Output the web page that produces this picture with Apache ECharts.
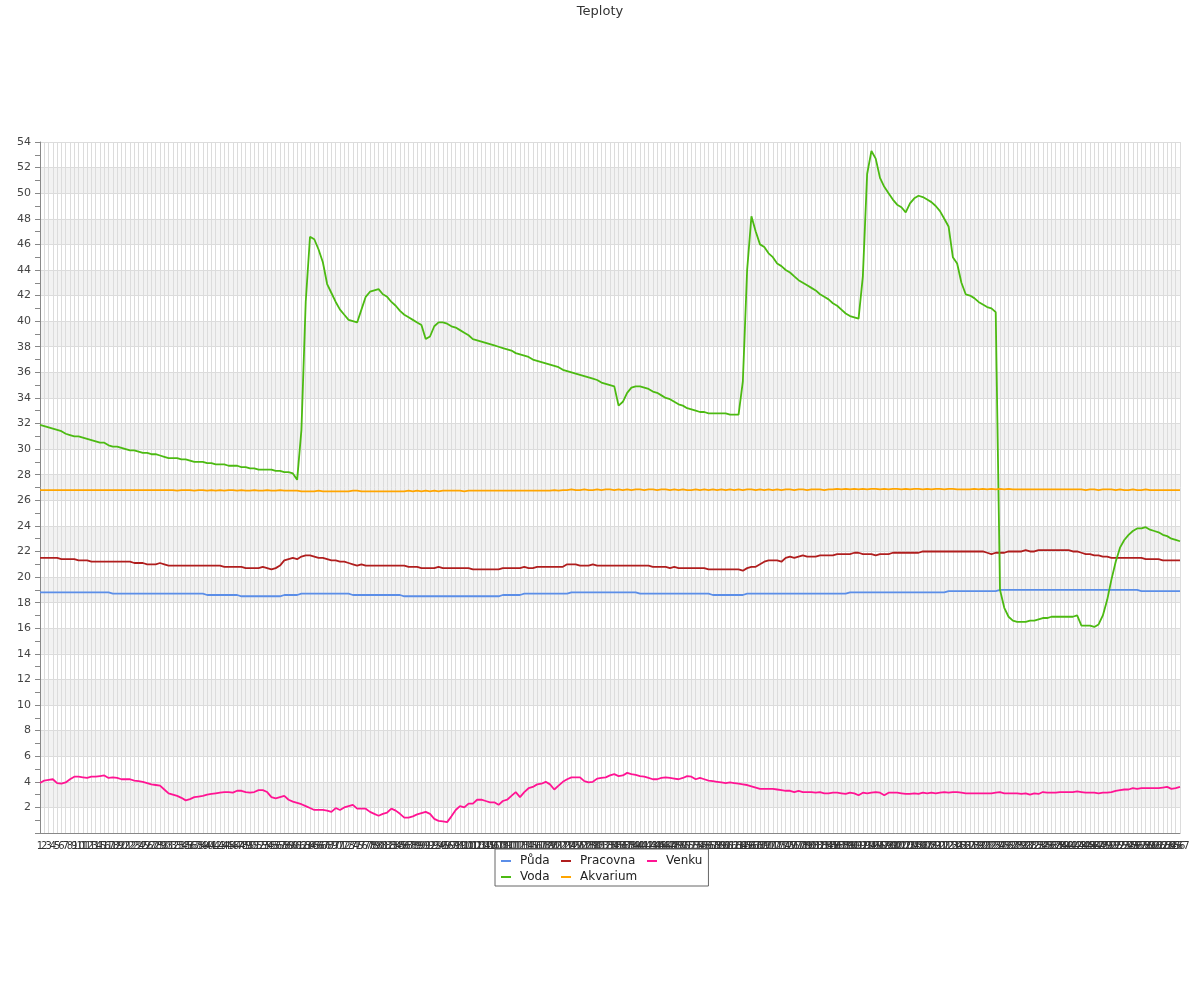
<!DOCTYPE html>
<html><head><meta charset="utf-8">
<script src="https://cdn.jsdelivr.net/npm/echarts@6/dist/echarts.min.js"></script>
<style>html,body{margin:0;padding:0;background:#fff}#c{width:1200px;height:1000px}</style>
</head><body><div id="c"></div>
<script>
const title = 'Teploty';
const seriesNames = ['Půda', 'Pracovna', 'Venku', 'Voda', 'Akvarium'];
const seriesColors = ['#5b8ee8', '#b01e1e', '#ff1493', '#4cba12', '#ffa500'];
const categories = Array.from({length: 267}, (_, i) => String(i + 1));
const yTicks = {min: 0, max: 54, step: 2};

const puda = [
18.8,18.8,18.8,18.8,18.8,18.8,18.8,18.8,18.8,18.8,
18.8,18.8,18.8,18.8,18.8,18.8,18.8,18.7,18.7,18.7,
18.7,18.7,18.7,18.7,18.7,18.7,18.7,18.7,18.7,18.7,
18.7,18.7,18.7,18.7,18.7,18.7,18.7,18.7,18.7,18.6,
18.6,18.6,18.6,18.6,18.6,18.6,18.6,18.5,18.5,18.5,
18.5,18.5,18.5,18.5,18.5,18.5,18.5,18.6,18.6,18.6,
18.6,18.7,18.7,18.7,18.7,18.7,18.7,18.7,18.7,18.7,
18.7,18.7,18.7,18.6,18.6,18.6,18.6,18.6,18.6,18.6,
18.6,18.6,18.6,18.6,18.6,18.5,18.5,18.5,18.5,18.5,
18.5,18.5,18.5,18.5,18.5,18.5,18.5,18.5,18.5,18.5,
18.5,18.5,18.5,18.5,18.5,18.5,18.5,18.5,18.6,18.6,
18.6,18.6,18.6,18.7,18.7,18.7,18.7,18.7,18.7,18.7,
18.7,18.7,18.7,18.7,18.8,18.8,18.8,18.8,18.8,18.8,
18.8,18.8,18.8,18.8,18.8,18.8,18.8,18.8,18.8,18.8,
18.7,18.7,18.7,18.7,18.7,18.7,18.7,18.7,18.7,18.7,
18.7,18.7,18.7,18.7,18.7,18.7,18.7,18.6,18.6,18.6,
18.6,18.6,18.6,18.6,18.6,18.7,18.7,18.7,18.7,18.7,
18.7,18.7,18.7,18.7,18.7,18.7,18.7,18.7,18.7,18.7,
18.7,18.7,18.7,18.7,18.7,18.7,18.7,18.7,18.7,18.8,
18.8,18.8,18.8,18.8,18.8,18.8,18.8,18.8,18.8,18.8,
18.8,18.8,18.8,18.8,18.8,18.8,18.8,18.8,18.8,18.8,
18.8,18.8,18.9,18.9,18.9,18.9,18.9,18.9,18.9,18.9,
18.9,18.9,18.9,18.9,19.0,19.0,19.0,19.0,19.0,19.0,
19.0,19.0,19.0,19.0,19.0,19.0,19.0,19.0,19.0,19.0,
19.0,19.0,19.0,19.0,19.0,19.0,19.0,19.0,19.0,19.0,
19.0,19.0,19.0,19.0,19.0,19.0,19.0,18.9,18.9,18.9,
18.9,18.9,18.9,18.9,18.9,18.9,18.9
];

const pracovna = [
21.5,21.5,21.5,21.5,21.5,21.4,21.4,21.4,21.4,21.3,
21.3,21.3,21.2,21.2,21.2,21.2,21.2,21.2,21.2,21.2,
21.2,21.2,21.1,21.1,21.1,21.0,21.0,21.0,21.1,21.0,
20.9,20.9,20.9,20.9,20.9,20.9,20.9,20.9,20.9,20.9,
20.9,20.9,20.9,20.8,20.8,20.8,20.8,20.8,20.7,20.7,
20.7,20.7,20.8,20.7,20.6,20.7,20.9,21.3,21.4,21.5,
21.4,21.6,21.7,21.7,21.6,21.5,21.5,21.4,21.3,21.3,
21.2,21.2,21.1,21.0,20.9,21.0,20.9,20.9,20.9,20.9,
20.9,20.9,20.9,20.9,20.9,20.9,20.8,20.8,20.8,20.7,
20.7,20.7,20.7,20.8,20.7,20.7,20.7,20.7,20.7,20.7,
20.7,20.6,20.6,20.6,20.6,20.6,20.6,20.6,20.7,20.7,
20.7,20.7,20.7,20.8,20.7,20.7,20.8,20.8,20.8,20.8,
20.8,20.8,20.8,21.0,21.0,21.0,20.9,20.9,20.9,21.0,
20.9,20.9,20.9,20.9,20.9,20.9,20.9,20.9,20.9,20.9,
20.9,20.9,20.9,20.8,20.8,20.8,20.8,20.7,20.8,20.7,
20.7,20.7,20.7,20.7,20.7,20.7,20.6,20.6,20.6,20.6,
20.6,20.6,20.6,20.6,20.5,20.7,20.8,20.8,21.0,21.2,
21.3,21.3,21.3,21.2,21.5,21.6,21.5,21.6,21.7,21.6,
21.6,21.6,21.7,21.7,21.7,21.7,21.8,21.8,21.8,21.8,
21.9,21.9,21.8,21.8,21.8,21.7,21.8,21.8,21.8,21.9,
21.9,21.9,21.9,21.9,21.9,21.9,22.0,22.0,22.0,22.0,
22.0,22.0,22.0,22.0,22.0,22.0,22.0,22.0,22.0,22.0,
22.0,21.9,21.8,21.9,21.9,21.9,22.0,22.0,22.0,22.0,
22.1,22.0,22.0,22.1,22.1,22.1,22.1,22.1,22.1,22.1,
22.1,22.0,22.0,21.9,21.8,21.8,21.7,21.7,21.6,21.6,
21.5,21.5,21.5,21.5,21.5,21.5,21.5,21.5,21.4,21.4,
21.4,21.4,21.3,21.3,21.3,21.3,21.3
];

const venku = [
3.9,4.1,4.15,4.2,3.9,3.85,3.95,4.2,4.4,4.4,
4.35,4.3,4.4,4.4,4.45,4.5,4.3,4.35,4.3,4.2,
4.2,4.2,4.1,4.05,4.0,3.9,3.8,3.75,3.7,3.4,
3.1,3.0,2.9,2.75,2.55,2.65,2.8,2.85,2.9,3.0,
3.05,3.1,3.15,3.2,3.2,3.15,3.3,3.3,3.2,3.15,
3.2,3.35,3.35,3.2,2.8,2.7,2.8,2.9,2.6,2.45,
2.35,2.25,2.1,1.95,1.8,1.8,1.8,1.75,1.65,1.95,
1.8,2.0,2.1,2.2,1.9,1.9,1.9,1.65,1.5,1.35,
1.5,1.6,1.9,1.75,1.5,1.2,1.2,1.3,1.45,1.55,
1.65,1.5,1.1,0.95,0.9,0.85,1.3,1.8,2.1,2.0,
2.3,2.3,2.6,2.6,2.5,2.4,2.4,2.2,2.5,2.6,
2.9,3.2,2.8,3.2,3.5,3.6,3.8,3.85,4.0,3.8,
3.4,3.7,4.0,4.2,4.35,4.35,4.35,4.05,3.95,4.0,
4.25,4.3,4.35,4.5,4.6,4.45,4.5,4.7,4.6,4.55,
4.45,4.4,4.3,4.2,4.2,4.3,4.35,4.3,4.25,4.2,
4.3,4.45,4.4,4.2,4.3,4.2,4.1,4.05,4.0,3.95,
3.9,3.95,3.9,3.85,3.8,3.75,3.65,3.55,3.45,3.45,
3.45,3.45,3.4,3.35,3.3,3.3,3.2,3.3,3.2,3.2,
3.2,3.15,3.2,3.1,3.1,3.15,3.15,3.1,3.05,3.15,
3.1,2.95,3.15,3.1,3.15,3.2,3.15,2.95,3.15,3.15,
3.15,3.1,3.05,3.05,3.1,3.05,3.15,3.1,3.15,3.1,
3.15,3.2,3.15,3.2,3.2,3.15,3.1,3.1,3.1,3.1,
3.1,3.1,3.1,3.15,3.2,3.1,3.1,3.1,3.1,3.05,
3.1,3.0,3.1,3.05,3.2,3.15,3.15,3.15,3.2,3.2,
3.2,3.2,3.25,3.2,3.15,3.15,3.15,3.1,3.15,3.15,
3.2,3.3,3.35,3.4,3.4,3.5,3.45,3.5,3.5,3.5,
3.5,3.5,3.55,3.6,3.45,3.5,3.6
];

const voda = [
31.9,31.8,31.7,31.6,31.5,31.4,31.2,31.1,31.0,31.0,
30.9,30.8,30.7,30.6,30.5,30.5,30.3,30.2,30.2,30.1,
30.0,29.9,29.9,29.8,29.7,29.7,29.6,29.6,29.5,29.4,
29.3,29.3,29.3,29.2,29.2,29.1,29.0,29.0,29.0,28.9,
28.9,28.8,28.8,28.8,28.7,28.7,28.7,28.6,28.6,28.5,
28.5,28.4,28.4,28.4,28.4,28.3,28.3,28.2,28.2,28.1,
27.6,31.5,41.5,46.6,46.4,45.6,44.6,42.9,42.2,41.5,
40.9,40.5,40.1,40.0,39.9,40.9,41.9,42.3,42.4,42.5,
42.1,41.9,41.5,41.2,40.8,40.5,40.3,40.1,39.9,39.7,
38.6,38.8,39.6,39.9,39.9,39.8,39.6,39.5,39.3,39.1,
38.9,38.6,38.5,38.4,38.3,38.2,38.1,38.0,37.9,37.8,
37.7,37.5,37.4,37.3,37.2,37.0,36.9,36.8,36.7,36.6,
36.5,36.4,36.2,36.1,36.0,35.9,35.8,35.7,35.6,35.5,
35.4,35.2,35.1,35.0,34.9,33.4,33.7,34.4,34.8,34.9,
34.9,34.8,34.7,34.5,34.4,34.2,34.0,33.9,33.7,33.5,
33.4,33.2,33.1,33.0,32.9,32.9,32.8,32.8,32.8,32.8,
32.8,32.7,32.7,32.7,35.3,44.0,48.2,47.0,46.0,45.8,
45.3,45.0,44.5,44.3,44.0,43.8,43.5,43.2,43.0,42.8,
42.6,42.4,42.1,41.9,41.7,41.4,41.2,40.9,40.6,40.4,
40.3,40.2,43.5,51.5,53.3,52.7,51.2,50.5,50.0,49.5,
49.1,48.9,48.5,49.2,49.6,49.8,49.7,49.5,49.3,49.0,
48.6,48.0,47.4,45.0,44.5,43.0,42.1,42.0,41.8,41.5,
41.3,41.1,41.0,40.7,19.0,17.6,16.9,16.6,16.5,16.5,
16.5,16.6,16.6,16.7,16.8,16.8,16.9,16.9,16.9,16.9,
16.9,16.9,17.0,16.2,16.2,16.2,16.1,16.3,17.0,18.2,
19.8,21.2,22.3,22.9,23.3,23.6,23.8,23.8,23.9,23.7,
23.6,23.5,23.3,23.2,23.0,22.9,22.8
];

const akvarium = [
26.8,26.8,26.8,26.8,26.8,26.8,26.8,26.8,26.8,26.8,
26.8,26.8,26.8,26.8,26.8,26.8,26.8,26.8,26.8,26.8,
26.8,26.8,26.8,26.8,26.8,26.8,26.8,26.8,26.8,26.8,
26.8,26.8,26.75,26.8,26.8,26.8,26.75,26.8,26.8,26.75,
26.8,26.75,26.8,26.75,26.8,26.8,26.75,26.8,26.75,26.75,
26.8,26.75,26.75,26.8,26.75,26.75,26.8,26.75,26.75,26.75,
26.75,26.7,26.7,26.7,26.7,26.75,26.7,26.7,26.7,26.7,
26.7,26.7,26.7,26.75,26.75,26.7,26.7,26.7,26.7,26.7,
26.7,26.7,26.7,26.7,26.7,26.7,26.75,26.7,26.75,26.7,
26.75,26.7,26.75,26.7,26.75,26.75,26.75,26.75,26.75,26.7,
26.75,26.75,26.75,26.75,26.75,26.75,26.75,26.75,26.75,26.75,
26.75,26.75,26.75,26.75,26.75,26.75,26.75,26.75,26.75,26.75,
26.8,26.75,26.8,26.8,26.85,26.8,26.8,26.85,26.8,26.8,
26.85,26.8,26.85,26.85,26.8,26.85,26.8,26.85,26.8,26.85,
26.85,26.8,26.85,26.85,26.8,26.85,26.85,26.8,26.85,26.8,
26.85,26.8,26.8,26.85,26.8,26.85,26.8,26.85,26.8,26.85,
26.8,26.85,26.8,26.85,26.8,26.85,26.85,26.8,26.85,26.8,
26.85,26.8,26.85,26.8,26.85,26.85,26.8,26.85,26.85,26.8,
26.85,26.85,26.85,26.8,26.85,26.85,26.9,26.85,26.9,26.85,
26.9,26.85,26.9,26.85,26.9,26.9,26.85,26.9,26.85,26.9,
26.9,26.85,26.9,26.85,26.9,26.9,26.85,26.9,26.85,26.9,
26.9,26.85,26.9,26.9,26.85,26.85,26.85,26.85,26.9,26.85,
26.9,26.85,26.9,26.85,26.9,26.85,26.9,26.85,26.85,26.85,
26.85,26.85,26.85,26.85,26.85,26.85,26.85,26.85,26.85,26.85,
26.85,26.85,26.85,26.85,26.8,26.85,26.85,26.8,26.85,26.85,
26.85,26.8,26.85,26.8,26.8,26.85,26.8,26.8,26.85,26.8,
26.8,26.8,26.8,26.8,26.8,26.8,26.8
];

const seriesData = [puda, pracovna, venku, voda, akvarium];
const legendTextWidths = [41, 67, 34, 41, 67];
const FONT = 'DejaVu Sans';

const chart = echarts.init(document.getElementById('c'), null, {renderer: 'canvas'});
chart.setOption({
  animation: false,
  backgroundColor: '#ffffff',
  textStyle: {fontFamily: FONT},
  title: {
    text: title, left: 'center', top: 0,
    textStyle: {fontSize: 13, fontWeight: 'normal', color: '#333', fontFamily: FONT}
  },
  legend: {
    left: 495, top: 849, width: 205,
    orient: 'horizontal',
    padding: [4, 6, 1, 6],
    itemGap: 0,
    itemWidth: 10, itemHeight: 2,
    icon: 'rect',
    borderColor: '#666', borderWidth: 1,
    textStyle: {fontSize: 12, color: '#222', fontFamily: FONT, lineHeight: 16},
    data: seriesNames.map((n, i) => ({name: n, textStyle: {width: legendTextWidths[i], padding: [0, 0, 0, 4]}}))
  },
  grid: {left: 40, right: 20, top: 142, bottom: 167, containLabel: false},
  xAxis: {
    type: 'category', data: categories, boundaryGap: false,
    axisLine: {show: true, lineStyle: {color: '#888', width: 1}},
    axisTick: {show: false},
    axisLabel: {interval: 0, fontSize: 10, color: '#333', margin: 8, fontFamily: FONT},
    splitLine: {show: true, interval: 0, lineStyle: {color: '#dcdcdc', width: 1}}
  },
  yAxis: {
    type: 'value', min: yTicks.min, max: yTicks.max, interval: yTicks.step,
    axisLine: {show: true, lineStyle: {color: '#888', width: 1}},
    axisTick: {show: true, length: 5, lineStyle: {color: '#888'}},
    minorTick: {show: true, splitNumber: 2, length: 5, lineStyle: {color: '#888'}},
    axisLabel: {fontSize: 11, color: '#444', margin: 9, fontFamily: FONT,
      formatter: v => (v === 0 ? '' : String(v))},
    splitLine: {show: true, lineStyle: {color: '#dcdcdc', width: 1}},
    splitArea: {show: true, areaStyle: {color: ['#ffffff', '#f2f2f2']}}
  },
  series: seriesNames.map((n, i) => ({
    name: n, type: 'line', data: seriesData[i],
    showSymbol: false, symbol: 'none',
    lineStyle: {color: seriesColors[i], width: 1.8},
    itemStyle: {color: seriesColors[i]}
  }))
});
</script>
</body></html>
